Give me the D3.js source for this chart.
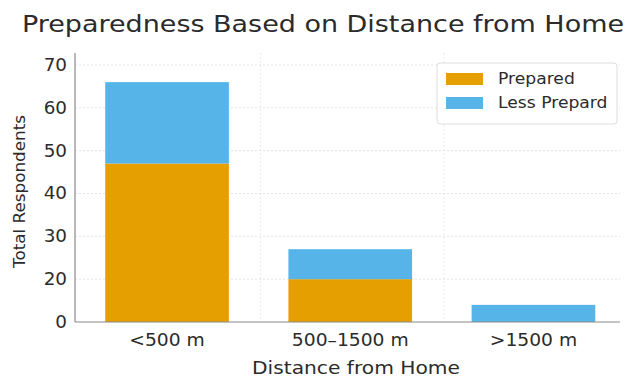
<!DOCTYPE html>
<html>
<head>
<meta charset="utf-8">
<script src="https://cdn.jsdelivr.net/npm/d3@7"></script>
<style>
  html, body { margin: 0; padding: 0; background: #fff; }
  svg { display: block; }
  text { font-family: "DejaVu Sans", sans-serif; fill: #2b2b2b; }
</style>
</head>
<body>
<svg id="chart" width="632" height="378"></svg>
<script>
// Respondents by distance from home, split by preparedness
const categories = ["<500 m", "500–1500 m", ">1500 m"];
const prepared = [47, 20, 0];
const lessPrepared = [19, 7, 8];
const seriesNames = ["Prepared", "Less Prepard"];
const yTicks = [0, 20, 30, 40, 50, 60, 70];

const colors = ["#E69F00", "#56B4E9"];
const plot = { left: 75, right: 620, top: 53, bottom: 322, yTop: 65 };

const svg = d3.select("#chart");

// Widen text slightly so glyph proportions match the wide layout
function widen(sel, k) {
  sel.each(function () {
    const w = this.getComputedTextLength();
    d3.select(this).attr("textLength", w * k).attr("lengthAdjust", "spacingAndGlyphs");
  });
}

const x = d3.scaleBand()
  .domain(categories)
  .range([plot.left, plot.right])
  .paddingInner(0.325)
  .paddingOuter(0.15)
  .align(0.55);

// Tick labels are evenly spaced, so the value scale is piecewise through them
const step = (plot.bottom - plot.yTop) / (yTicks.length - 1);
const y = d3.scaleLinear()
  .domain(yTicks)
  .range(yTicks.map((d, i) => plot.bottom - i * step));

const rows = categories.map((c, i) => ({ cat: c, Prepared: prepared[i], "Less Prepard": lessPrepared[i] }));
const stacked = d3.stack().keys(seriesNames)(rows);

// Grid
const grid = svg.append("g");
grid.selectAll("line.h").data(yTicks.slice(1)).join("line")
  .attr("x1", plot.left).attr("x2", plot.right)
  .attr("y1", d => y(d)).attr("y2", d => y(d))
  .attr("stroke", "#dcdcdc").attr("stroke-width", 0.8).attr("stroke-dasharray", "2,2");
const bounds = categories.slice(1).map(c => x(c) - x.step() * x.paddingInner() / 2 + 2);
grid.selectAll("line.v").data(bounds).join("line")
  .attr("x1", d => d).attr("x2", d => d)
  .attr("y1", plot.top).attr("y2", plot.bottom)
  .attr("stroke", "#e2e2e2").attr("stroke-width", 0.8).attr("stroke-dasharray", "2,2");

// Bars
svg.append("g").selectAll("g").data(stacked).join("g")
  .attr("fill", (d, i) => colors[i])
  .selectAll("rect").data(d => d).join("rect")
  .attr("x", d => x(d.data.cat))
  .attr("width", x.bandwidth())
  .attr("y", d => y(d[1]))
  .attr("height", d => y(d[0]) - y(d[1]));

// Axes
const yAxis = svg.append("g")
  .attr("transform", `translate(${plot.left},0)`)
  .call(d3.axisLeft(y).tickValues(yTicks).tickSize(0).tickPadding(8));
yAxis.select(".domain").remove();
yAxis.selectAll("text").attr("font-size", 17).attr("fill", "#2b2b2b")
  .attr("font-family", "DejaVu Sans");
widen(yAxis.selectAll("text"), 1.08);

const xAxis = svg.append("g")
  .attr("transform", `translate(0,${plot.bottom})`)
  .call(d3.axisBottom(x).tickSize(0).tickPadding(12));
xAxis.select(".domain").remove();
xAxis.selectAll("text").attr("font-size", 17).attr("fill", "#2b2b2b")
  .attr("font-family", "DejaVu Sans");
widen(xAxis.selectAll("text"), 1.1);

// Spines
svg.append("line")
  .attr("x1", plot.left).attr("x2", plot.left)
  .attr("y1", plot.top).attr("y2", plot.bottom)
  .attr("stroke", "#8a8a8a").attr("stroke-width", 1.2);
svg.append("line")
  .attr("x1", plot.left).attr("x2", plot.right)
  .attr("y1", plot.bottom).attr("y2", plot.bottom)
  .attr("stroke", "#8a8a8a").attr("stroke-width", 1.2);

// Titles
const title = svg.append("text")
  .attr("x", 22).attr("y", 32)
  .attr("font-size", 23)
  .attr("fill", "#222")
  .text("Preparedness Based on Distance from Home");
title.attr("textLength", 602).attr("lengthAdjust", "spacingAndGlyphs");

const xLabel = svg.append("text")
  .attr("x", 356).attr("y", 374)
  .attr("text-anchor", "middle")
  .attr("font-size", 17)
  .text("Distance from Home");
xLabel.attr("textLength", 208).attr("lengthAdjust", "spacingAndGlyphs");

const yLabel = svg.append("text")
  .attr("transform", `translate(25,191.5) rotate(-90)`)
  .attr("text-anchor", "middle")
  .attr("font-size", 16)
  .text("Total Respondents");
yLabel.attr("textLength", 153).attr("lengthAdjust", "spacingAndGlyphs");

// Legend
const legend = svg.append("g").attr("transform", "translate(437,63)");
legend.append("rect")
  .attr("width", 180).attr("height", 61).attr("rx", 3)
  .attr("fill", "#fff").attr("fill-opacity", 0.9)
  .attr("stroke", "#dddddd").attr("stroke-width", 1);
const items = legend.selectAll("g.item").data(seriesNames).join("g")
  .attr("transform", (d, i) => `translate(9,${10 + i * 24})`);
items.append("rect")
  .attr("width", 37).attr("height", 12)
  .attr("fill", (d, i) => colors[i]);
items.append("text")
  .attr("x", 52).attr("y", 11)
  .attr("font-size", 16.5)
  .text(d => d);
widen(items.selectAll("text"), 1.04);
</script>
</body>
</html>
